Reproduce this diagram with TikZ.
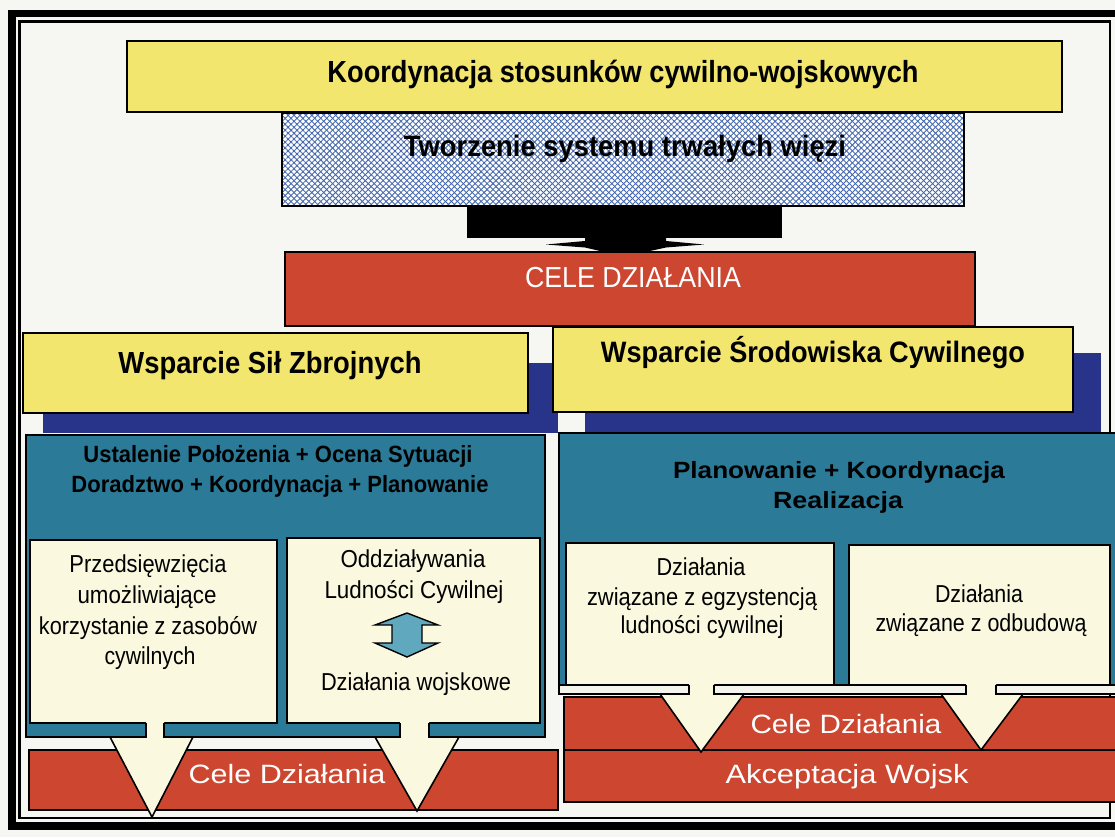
\documentclass[tikz,border=0pt]{standalone}
\usepackage{fontspec}
\setmainfont{Liberation Sans}
\usetikzlibrary{patterns.meta}
\definecolor{bgc}{RGB}{246,246,243}
\definecolor{yel}{RGB}{242,230,110}
\definecolor{redc}{RGB}{205,70,48}
\definecolor{tealc}{RGB}{42,122,152}
\definecolor{navyc}{RGB}{40,52,138}
\definecolor{creamc}{RGB}{250,248,222}
\definecolor{hatchc}{RGB}{70,105,175}
\definecolor{arrowc}{RGB}{96,168,190}
\definecolor{stripc}{RGB}{244,244,236}
% set a line of text to a given width, keeping its height
\newcommand\fitw[2]{\resizebox{#1pt}{\height}{#2}}
\newcommand\fsz[1]{\fontsize{#1}{#1}\selectfont}
\begin{document}
\begin{tikzpicture}[x=1pt,y=-1pt,
  box/.style={draw=black,line width=1.6pt},
  edge/.style={draw=black,line width=1.6pt,line join=miter},
  lbl/.style={inner sep=0pt,anchor=base},
  hd/.style={lbl,font=\bfseries},
  plain/.style={lbl},
  wht/.style={lbl,text=white}]
\fill[bgc] (0,0) rectangle (1115,837);
\useasboundingbox (0,0) rectangle (1115,837);

% double frame
\draw[line width=7.5pt] (12,13.5) rectangle (1130,826);
\draw[line width=2.5pt] (19.5,21.5) rectangle (1110,818);

% top stack
\draw[box,fill=yel] (127,41) rectangle (1062,112);
\fill[white] (282,113) rectangle (964,206);
\fill[pattern={Lines[angle=45,distance=4.2pt,line width=0.9pt]},pattern color=hatchc] (282,113) rectangle (964,206);
\fill[pattern={Lines[angle=-45,distance=4.2pt,line width=0.9pt]},pattern color=hatchc] (282,113) rectangle (964,206);
\draw[box] (282,113) rectangle (964,206);
\fill[black] (467,206) rectangle (782,238);
\fill[black] (585,237) -- (666,237) -- (666,241) -- (704,244.5) -- (666,247.5)
  -- (650,251) -- (600,251) -- (585,247.5) -- (546,244.5) -- (585,241) -- cycle;
\draw[box,fill=redc] (285,252) rectangle (975,326);

% navy bars behind the two headers
\fill[navyc] (43,363) rectangle (558,433);
\fill[navyc] (585,353) rectangle (1101,432);
\draw[box,fill=yel] (23,333) rectangle (528,413);
\draw[box,fill=yel] (553,327) rectangle (1073,412);

% left column
\draw[box,fill=tealc] (26,435) rectangle (545,737);
\draw[box,fill=creamc] (30,540) rectangle (277,723);
\draw[box,fill=creamc] (287,538) rectangle (540,723);
\draw[box,fill=redc] (29,750) rectangle (558,810);

% right column
\draw[box,fill=tealc] (559,433) rectangle (1130,694);
\draw[box,fill=creamc] (566,543) rectangle (834,685);
\draw[box,fill=creamc] (849,545) rectangle (1110,685);
\draw[box,fill=stripc] (559,685) rectangle (1130,694);
\draw[box,fill=redc] (564,697) rectangle (1130,750);
\draw[box,fill=redc] (564,750) rectangle (1130,802);

% cream pointers running down into the red bands
\fill[creamc] (146,721) -- (146,737) -- (110,737) -- (152,817) -- (193,737) -- (164,737) -- (164,721) -- cycle;
\draw[edge] (146,723) -- (146,737) -- (110,737) -- (152,817) -- (193,737) -- (164,737) -- (164,723);
\fill[creamc] (400,721) -- (400,737) -- (375,737) -- (417,811) -- (459,737) -- (429,737) -- (429,721) -- cycle;
\draw[edge] (400,723) -- (400,737) -- (375,737) -- (417,811) -- (459,737) -- (429,737) -- (429,723);
\fill[creamc] (689,683) -- (689,694) -- (660,694) -- (701,752) -- (744,694) -- (714,694) -- (714,683) -- cycle;
\draw[edge] (689,685) -- (689,694) -- (660,694) -- (701,752) -- (744,694) -- (714,694) -- (714,685);
\fill[creamc] (966,683) -- (966,694) -- (941,694) -- (981,750) -- (1023,694) -- (996,694) -- (996,683) -- cycle;
\draw[edge] (966,685) -- (966,694) -- (941,694) -- (981,750) -- (1023,694) -- (996,694) -- (996,685);

% two-headed arrow between the civil and military actions
\draw[edge,line width=1.4pt,fill=arrowc] (407,613) -- (438,625) -- (422,625) -- (422,643) -- (438,643)
  -- (407,657) -- (375,643) -- (392,643) -- (392,625) -- (375,625) -- cycle;

% labels
\node[hd,font=\fsz{30.5}\bfseries] (koord) at (623,83) {\fitw{591}{Koordynacja stosunków cywilno-wojskowych}};
\node[hd,font=\fsz{29.5}\bfseries] (tworz) at (625,157) {\fitw{442}{Tworzenie systemu trwałych więzi}};
\node[wht,font=\fsz{29}] (cele) at (633,287) {\fitw{216}{CELE DZIAŁANIA}};
\node[hd,font=\fsz{30.5}\bfseries] (wsz) at (270,373) {\fitw{303}{Wsparcie Sił Zbrojnych}};
\node[hd,font=\fsz{29.5}\bfseries] (wsc) at (813,362) {\fitw{424}{Wsparcie Środowiska Cywilnego}};

\node[hd,font=\fsz{23.5}\bfseries] (ust) at (278,462) {\fitw{389}{Ustalenie Położenia + Ocena Sytuacji}};
\node[hd,font=\fsz{23.5}\bfseries] (dor) at (280,492) {\fitw{417}{Doradztwo + Koordynacja + Planowanie}};
\node[hd,font=\fsz{23.5}\bfseries] (plan) at (839,478) {\fitw{332}{Planowanie + Koordynacja}};
\node[hd,font=\fsz{23.5}\bfseries] (real) at (838,508) {\fitw{130}{Realizacja}};

\node[plain,font=\fsz{24.5}] (p1) at (148,572) {\fitw{157}{Przedsięwzięcia}};
\node[plain,font=\fsz{24.5}] (p2) at (147,603) {\fitw{139}{umożliwiające}};
\node[plain,font=\fsz{24.5}] (p3) at (148,634) {\fitw{218}{korzystanie z zasobów}};
\node[plain,font=\fsz{24.5}] (p4) at (150,664) {\fitw{91}{cywilnych}};

\node[plain,font=\fsz{24.5}] (o1) at (413,567) {\fitw{145}{Oddziaływania}};
\node[plain,font=\fsz{24.5}] (o2) at (414,598) {\fitw{179}{Ludności Cywilnej}};
\node[plain,font=\fsz{24.5}] (o3) at (416,690) {\fitw{190}{Działania wojskowe}};

\node[plain,font=\fsz{24.5}] (e1) at (701,575) {\fitw{89}{Działania}};
\node[plain,font=\fsz{24.5}] (e2) at (702,605) {\fitw{230}{związane z egzystencją}};
\node[plain,font=\fsz{24.5}] (e3) at (702,633) {\fitw{163}{ludności cywilnej}};

\node[plain,font=\fsz{24.5}] (b1) at (979,602) {\fitw{88}{Działania}};
\node[plain,font=\fsz{24.5}] (b2) at (981,631) {\fitw{211}{związane z odbudową}};

\node[wht,font=\fsz{26.5}] (celeL) at (287,783) {\fitw{197}{Cele Działania}};
\node[wht,font=\fsz{26.5}] (celeR) at (846,733) {\fitw{191}{Cele Działania}};
\node[wht,font=\fsz{26.5}] (akc) at (847,783) {\fitw{243}{Akceptacja Wojsk}};
\end{tikzpicture}
\end{document}
